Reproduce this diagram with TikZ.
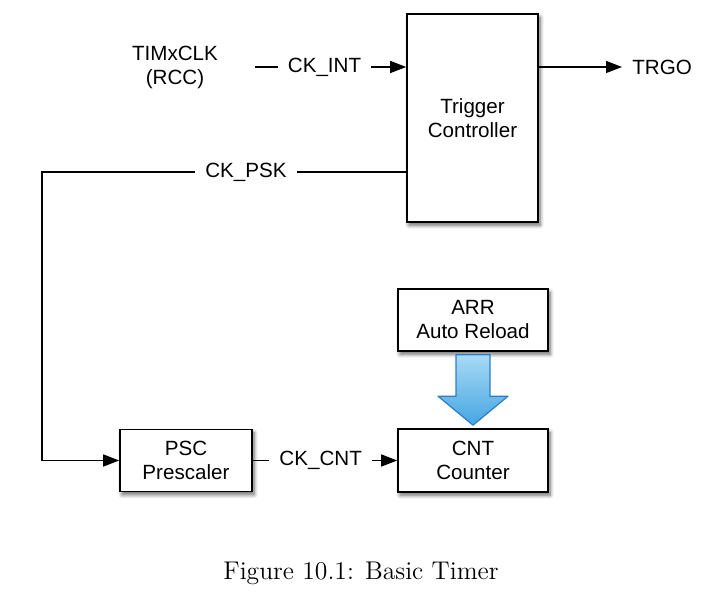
\documentclass[tikz,border=0pt]{standalone}
\usepackage{fontspec}
\usepackage{tikz}
\usetikzlibrary{calc,arrows.meta,shadows.blur}
\newfontfamily\helv{Liberation Sans}

\definecolor{arrtop}{RGB}{168,218,246}
\definecolor{arrbot}{RGB}{70,165,225}
\definecolor{arredge}{RGB}{45,125,195}

\tikzset{
  blk/.style={draw,line width=0.8pt,rectangle,fill=white,align=center,
    font=\helv\fontsize{10.3}{12}\selectfont,
    blur shadow={shadow xshift=1pt,shadow yshift=-1.6pt,shadow blur steps=6,shadow blur radius=2pt,shadow opacity=60}},
  lbl/.style={fill=white,inner xsep=5pt,font=\helv\fontsize{10.3}{12}\selectfont},
  txt/.style={align=center,font=\helv\fontsize{10.3}{12}\selectfont},
  wire/.style={line width=0.65pt,-{Triangle[length=8pt,width=6pt]}}
}

\begin{document}
\begin{tikzpicture}[x=0.5pt,y=-0.5pt]
\useasboundingbox (0,0) rectangle (702,603);
\node [blk,minimum width=65.5pt,minimum height=104pt] (trig) at(472.5,118){Trigger\\Controller};
\node [blk,minimum width=75pt,minimum height=31pt] (arr) at(473,320){ARR\\Auto Reload};
\node [blk,minimum width=75pt,minimum height=31.5pt] (cnt) at(473,460.5){CNT\\Counter};
\node [blk,minimum width=66pt,minimum height=31pt] (psc) at(186,460.5){PSC\\Prescaler};
\node [txt] (clk) at(175,67){TIMxCLK\\(RCC)};
\node [txt,anchor=west,inner sep=5pt] (trgo) at(622,67){TRGO};
\coordinate (ckin) at(255,67);
\coordinate (corner) at(42,172);
\draw[wire](ckin) -- node[lbl,pos=0.46]{CK\_INT} (trig.west |- ckin);
\draw[wire](trig.east |- ckin) -- (trgo.west);
\draw[wire](trig.west |- corner) -- node[lbl,pos=0.44]{CK\_PSK} (corner) |- (psc.west);
\draw[wire](psc) -- node[lbl,pos=0.47]{CK\_CNT} (cnt);
% reload arrow
\shade[top color=arrtop,bottom color=arrbot,draw=arredge,line width=0.6pt,line join=round]
  ($(arr.south)+(-17,3)$) -- ($(arr.south)+(17,3)$) -- ($(cnt.north)+(17,-32)$)
  -- ($(cnt.north)+(35,-32)$) -- ($(cnt.north)+(0,-3)$) -- ($(cnt.north)+(-35,-32)$)
  -- ($(cnt.north)+(-17,-32)$) -- cycle;
\node [font=\fontsize{12.8}{15}\selectfont] (cap) at(361,573){Figure 10.1: Basic Timer};
\end{tikzpicture}
\end{document}
